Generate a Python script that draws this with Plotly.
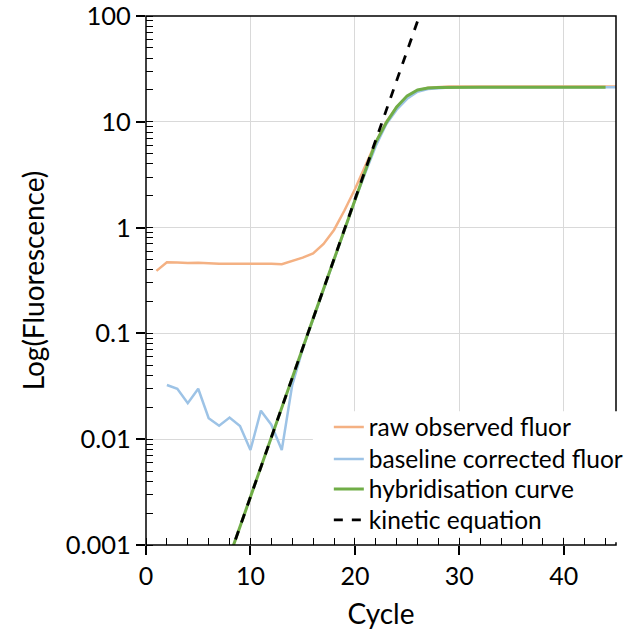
import plotly.graph_objects as go

cycles = list(range(1, 46))

raw_fluor = [0.39, 0.47, 0.468, 0.462, 0.465, 0.457, 0.455, 0.455, 0.455, 0.452,
             0.458, 0.455, 0.45, 0.48, 0.52, 0.57, 0.70, 0.95, 1.45, 2.3,
             3.8, 6.4, 10.0, 13.8, 17.3, 19.8, 21.0, 21.4, 21.6, 21.6,
             21.6, 21.6, 21.6, 21.6, 21.6, 21.6, 21.6, 21.6, 21.6, 21.6,
             21.6, 21.6, 21.6, 21.6, 21.6]

baseline_fluor = [None, 0.0325, 0.030, 0.0219, 0.030, 0.0158, 0.0134, 0.016, 0.0133, 0.0079,
                  0.0186, 0.0137, 0.0079, 0.0325, 0.071, 0.136, 0.26, 0.50, 0.95, 1.8,
                  3.3, 5.9, 9.5, 13.0, 16.5, 19.2, 20.4, 20.9, 21.1, 21.2,
                  21.2, 21.2, 21.2, 21.2, 21.2, 21.2, 21.2, 21.2, 21.2, 21.2,
                  21.2, 21.2, 21.2, 21.2, 21.2]

hybrid_cycles = list(range(8, 45))
hybrid_curve = [0.00078, 0.0015, 0.00285, 0.00545, 0.0104, 0.0199, 0.038, 0.0725, 0.138, 0.264,
                0.505, 0.96, 1.82, 3.45, 6.4, 9.8, 13.8, 17.6, 20.0, 20.9,
                21.1, 21.2, 21.2, 21.2, 21.2, 21.2, 21.2, 21.2, 21.2, 21.2,
                21.2, 21.2, 21.2, 21.2, 21.2, 21.2, 21.2]

kinetic_cycles = list(range(8, 28))
kinetic_eq = [0.00078, 0.0015, 0.00285, 0.00545, 0.0104, 0.0199, 0.038, 0.0725, 0.138, 0.264,
              0.505, 0.964, 1.84, 3.5, 6.7, 12.8, 24.5, 46.8, 89.0, 171.0]

y_tickvals = [0.001, 0.01, 0.1, 1, 10, 100]
y_ticktext = ["0.001", "0.01", "0.1", "1", "10", "100"]

FONT = "Lato"

fig = go.Figure()
fig.add_trace(go.Scatter(x=cycles, y=raw_fluor, mode="lines", name="raw observed fluor",
                         line=dict(color="#F4B183", width=2.5), legend="legend"))
fig.add_trace(go.Scatter(x=cycles, y=baseline_fluor, mode="lines", name="baseline corrected fluor",
                         line=dict(color="#9DC3E6", width=2.5), legend="legend2"))
fig.add_trace(go.Scatter(x=hybrid_cycles, y=hybrid_curve, mode="lines", name="hybridisation curve",
                         line=dict(color="#70AD47", width=3), legend="legend3"))
fig.add_trace(go.Scatter(x=kinetic_cycles, y=kinetic_eq, mode="lines", name="kinetic equation",
                         line=dict(color="black", width=2.8, dash="dash"), legend="legend4"))

# legend row centres in pixels (plot area spans y=16..545)
row_px = [427, 459, 489, 520]
def leg(c):
    return dict(x=0.389, y=(545 - c) / 529, xanchor="left", yanchor="middle",
                bgcolor="rgba(0,0,0,0)", font=dict(size=24.5, family=FONT), itemwidth=30)

fig.update_layout(
    width=644, height=633,
    margin=dict(l=146, r=28, t=16, b=88),
    paper_bgcolor="white", plot_bgcolor="white",
    font=dict(family=FONT, color="black", size=20),
    legend=leg(row_px[0]), legend2=leg(row_px[1]),
    legend3=leg(row_px[2]), legend4=leg(row_px[3]),
    showlegend=True,
    shapes=[
        # legend background box
        dict(type="rect", xref="paper", yref="paper", x0=0.355, x1=1.03, y0=0.015, y1=0.253,
             line=dict(width=0), fillcolor="white", layer="above"),
        # plot frame
        dict(type="rect", xref="paper", yref="paper", x0=0, x1=1, y0=0, y1=1,
             line=dict(color="black", width=1.5), fillcolor="rgba(0,0,0,0)", layer="above"),
        # legend box covers frame on the right side
        dict(type="rect", xref="paper", yref="paper", x0=0.99, x1=1.03, y0=0.005, y1=0.253,
             line=dict(width=0), fillcolor="white", layer="above"),
    ],
)
fig.update_xaxes(
    range=[0, 45], tickvals=[0, 10, 20, 30, 40], automargin=False,
    showline=False,
    ticks="outside", ticklen=9, tickcolor="black", tickwidth=1.5,
    minor=dict(ticks="inside", ticklen=7, tickcolor="black", tickwidth=1.2, dtick=2, tick0=0, showgrid=False),
    showgrid=True, gridcolor="#D9D9D9", gridwidth=1,
    zeroline=False, ticklabeloverflow="allow",
    tickfont=dict(size=25, family=FONT),
    title=dict(text="Cycle", font=dict(size=28, family=FONT), standoff=15),
)
fig.update_yaxes(
    type="log", range=[-3, 2], tickvals=y_tickvals, ticktext=y_ticktext, automargin=False,
    showline=False,
    ticks="outside", ticklen=9, tickcolor="black", tickwidth=1.5,
    minor=dict(ticks="inside", ticklen=7, tickcolor="black", tickwidth=1.2, dtick="D1", showgrid=False),
    showgrid=True, gridcolor="#D9D9D9", gridwidth=1,
    zeroline=False, ticklabeloverflow="allow",
    tickfont=dict(size=25.5, family=FONT),
    title=dict(text="Log(Fluorescence)", font=dict(size=28, family=FONT), standoff=12),
)

fig.write_html("out.html")
